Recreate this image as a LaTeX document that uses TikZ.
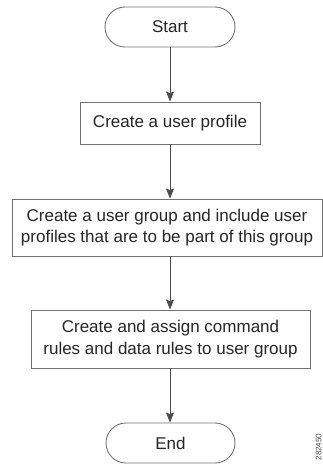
\documentclass[tikz,border=0pt]{standalone}
\usepackage{fontspec}
\setmainfont{Liberation Sans}
\usetikzlibrary{arrows.meta}
\begin{document}
\begin{tikzpicture}[x=1pt,y=1pt,
  box/.style={draw=black!55, line width=0.9pt, fill=white, text=black!85,
    align=center, inner sep=0pt, font=\fontsize{17}{21.5}\selectfont},
  term/.style={box, rounded corners=20pt},
  flow/.style={draw=black!70, line width=0.9pt, -{Stealth[length=10pt,width=8pt,inset=1.5pt]}}]
\useasboundingbox (0,0) rectangle (323,-466);
\node[term, minimum width=130pt, minimum height=40pt] (start) at (170,-27) {Start};
\node[box, minimum width=180pt, minimum height=42pt] (b1) at (170,-123) {Create a user profile};
\node[box, minimum width=310pt, minimum height=57pt] (b2) at (167,-227.5) {Create a user group and include user\\profiles that are to be part of this group};
\node[box, minimum width=279pt, minimum height=58pt] (b3) at (170.5,-339) {Create and assign command\\rules and data rules to user group};
\node[term, minimum width=129pt, minimum height=40pt] (end) at (170.5,-443) {End};
\draw[flow] (start.south) -- (b1.north);
\draw[flow] (b1.south) -- (b1.south |- b2.north);
\draw[flow] (b1.south |- b2.south) -- (b1.south |- b3.north);
\draw[flow] (b1.south |- b3.south) -- (b1.south |- end.north);
\node[rotate=90, text=black!70, font=\fontsize{8}{9}\selectfont, inner sep=0pt] (fig) at (318.5,-447) {282450};
\end{tikzpicture}
\end{document}
